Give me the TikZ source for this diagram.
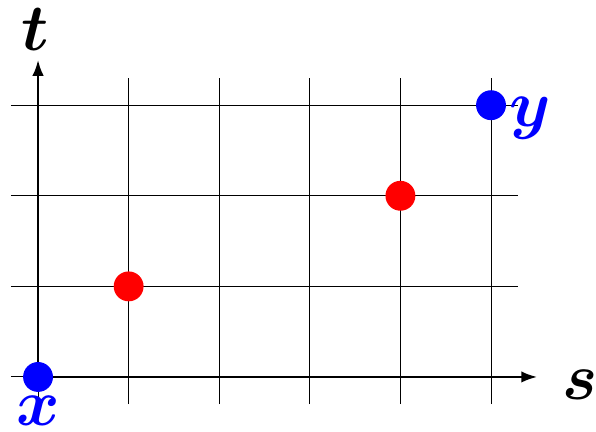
\documentclass[tikz,border=0pt]{standalone}
\usepackage{amsmath}
\usepackage{bm}
\usetikzlibrary{arrows.meta, positioning}
\tikzset{
  grd/.style ={draw=black, line width=0.32pt},
  ax/.style  ={line width=0.75pt, -{Latex[length=5pt,width=3.6pt]}},
  dot/.style ={circle, inner sep=0pt, minimum size=3.3mm},
  lbl/.style ={font=\huge, inner sep=0pt},
}

\begin{document}
\begin{tikzpicture}
  \useasboundingbox (-0.42,-0.607) rectangle (6.159,4.161);
  % grid
  \foreach \i in {0,...,5} \draw[grd] (\i,-0.3) -- (\i,3.3);
  \foreach \j in {0,...,3} \draw[grd] (-0.3,\j) -- (5.3,\j);
  % axes
  \coordinate (o) at (0,0);
  \coordinate (send) at (5.51,0);
  \coordinate (tend) at (0,3.5);
  \draw[ax] (o)--(send);
  \draw[ax] (o)--(tend);
  \node[lbl] (s) at (5.98,-0.09) {$\bm{s}$};
  \node[lbl] (t) at (-0.03,3.83) {$\bm{t}$};
  % points
  \node[dot, fill=blue] (x) at (0,0) {};
  \node[dot, fill=red] (p1) at (1,1) {};
  \node[dot, fill=red] (p2) at (4,2) {};
  \node[dot, fill=blue] (y) at (5,3) {};
  \node[lbl, text=blue] (xl) at (0,-0.37) {$\bm{x}$};
  \node[lbl, text=blue] (yl) at (5.43,2.86) {$\bm{y}$};
\end{tikzpicture}
\end{document}
